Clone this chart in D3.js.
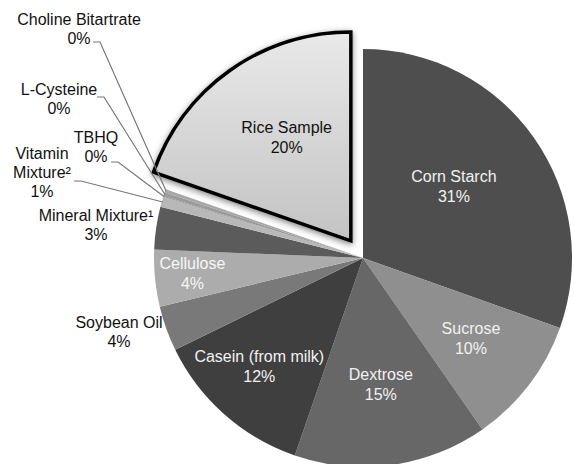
<!DOCTYPE html>
<html>
<head>
<meta charset="utf-8">
<style>
  body { margin: 0; background: #fff; }
  text { font-family: "Liberation Sans", Arial, sans-serif; font-size: 16px; }
</style>
<script src="https://cdn.jsdelivr.net/npm/d3@7/dist/d3.min.js"></script>
</head>
<body>
<div id="chart"></div>
<script>
  var names = ['Corn Starch', 'Sucrose', 'Dextrose', 'Casein (from milk)', 'Soybean Oil',
               'Cellulose', 'Mineral Mixture\u00b9', 'Vitamin Mixture\u00b2', 'TBHQ',
               'L-Cysteine', 'Choline Bitartrate', 'Rice Sample'];
  var values = [30.5, 9.9, 15.0, 12.5, 3.5, 4.4, 3.3, 0.8, 0.05, 0.3, 0.25, 19.7];
  var pctLabels = ['31%', '10%', '15%', '12%', '4%', '4%', '3%', '1%', '0%', '0%', '0%', '20%'];
  var fills = ['#4e4e4e', '#8f8f8f', '#676767', '#3f3f3f', '#797979', '#acacac',
               '#5b5b5b', '#b8b8b8', '#8a8a8a', '#9a9a9a', '#a6a6a6', 'url(#riceGrad)'];

  var W = 574, H = 464;
  var cx = 363, cy = 258, R = 209;

  // label inside its slice: fraction of radius + small nudge; null = outside with leader
  var inside = [0.55, 0.65, 0.62, 0.72, null, 0.82, null, null, null, null, null, 0.58];
  var nudge = [[-3, -4], [0, 0], [0, 0], [-4, -3], null, [0, 0], null, null, null, null, null, [6, -3]];
  var inColor = ['#f2f2f2', '#f2f2f2', '#f2f2f2', '#f2f2f2', null, '#f7f7f7', null, null, null, null, null, '#111'];

  // outside labels: text lines, first baseline, start of leader
  var outside = {
    4: { lines: ['Soybean Oil', '4%'], x: 119, y: 328 },
    6: { lines: ['Mineral Mixture\u00b9', '3%'], x: 96, y: 221 },
    7: { lines: ['Vitamin', 'Mixture\u00b2', '1%'], x: 42, y: 159, lead: [74, 181] },
    8: { lines: ['TBHQ', '0%'], x: 96, y: 143, lead: [111, 162] },
    9: { lines: ['L-Cysteine', '0%'], x: 59, y: 95, lead: [97, 97] },
    10: { lines: ['Choline Bitartrate', '0%'], x: 79, y: 25, lead: [93, 42] }
  };

  var svg = d3.select('#chart').append('svg')
      .attr('width', W)
      .attr('height', H);

  var defs = svg.append('defs');
  var grad = defs.append('linearGradient')
      .attr('id', 'riceGrad')
      .attr('x1', 0).attr('y1', 0).attr('x2', 0).attr('y2', 1);
  grad.append('stop').attr('offset', '0%').attr('stop-color', '#e9e9e9');
  grad.append('stop').attr('offset', '100%').attr('stop-color', '#c3c3c3');

  var shadow = defs.append('filter')
      .attr('id', 'shadow')
      .attr('x', '-20%').attr('y', '-20%').attr('width', '140%').attr('height', '140%');
  shadow.append('feDropShadow')
      .attr('dx', 0).attr('dy', 2)
      .attr('stdDeviation', 3)
      .attr('flood-color', '#000')
      .attr('flood-opacity', 0.5);

  var pie = d3.pie().sort(null).value(function(d) { return d; });
  var arcs = pie(values);
  var arc = d3.arc().innerRadius(0).outerRadius(R);

  var g = svg.append('g').attr('transform', 'translate(' + cx + ',' + cy + ')');

  var explode = 21;
  function offset(d, i) {
    if (i !== 11) return [0, 0];
    var a = (d.startAngle + d.endAngle) / 2;
    return [Math.sin(a) * explode, -Math.cos(a) * explode];
  }

  g.selectAll('path.slice')
      .data(arcs)
    .enter().append('path')
      .attr('class', 'slice')
      .attr('d', arc)
      .attr('fill', function(d, i) { return fills[i]; })
      .attr('transform', function(d, i) {
        var o = offset(d, i);
        return 'translate(' + o[0] + ',' + o[1] + ')';
      })
      .attr('stroke', function(d, i) { return i === 11 ? '#000' : 'none'; })
      .attr('stroke-width', function(d, i) { return i === 11 ? 3.5 : 0; })
      .attr('filter', function(d, i) { return i === 11 ? 'url(#shadow)' : null; });

  // inside labels
  arcs.forEach(function(d, i) {
    if (inside[i] == null) return;
    var a = (d.startAngle + d.endAngle) / 2;
    var o = offset(d, i);
    var r = R * inside[i];
    var x = Math.sin(a) * r + o[0] + nudge[i][0],
        y = -Math.cos(a) * r + o[1] + nudge[i][1];
    var t = g.append('text')
        .attr('text-anchor', 'middle')
        .attr('fill', inColor[i]);
    t.append('tspan').attr('x', x).attr('y', y - 6).text(names[i]);
    t.append('tspan').attr('x', x).attr('y', y + 14).text(pctLabels[i]);
  });

  // outside labels with leader lines
  Object.keys(outside).forEach(function(k) {
    var i = +k, L = outside[k], d = arcs[i];
    var a = (d.startAngle + d.endAngle) / 2;
    var t = svg.append('text')
        .attr('text-anchor', 'middle')
        .attr('fill', '#111');
    L.lines.forEach(function(s, j) {
      t.append('tspan').attr('x', L.x).attr('y', L.y + j * 19).text(s);
    });
    if (L.lead) {
      var ex = cx + Math.sin(a) * (R - 1), ey = cy - Math.cos(a) * (R - 1);
      svg.append('polyline')
          .attr('points', [L.lead, [L.lead[0] + 7, L.lead[1]], [ex, ey]].map(function(p) { return p.join(','); }).join(' '))
          .attr('fill', 'none')
          .attr('stroke', '#777')
          .attr('stroke-width', 1.2);
    }
  });
</script>
</body>
</html>
